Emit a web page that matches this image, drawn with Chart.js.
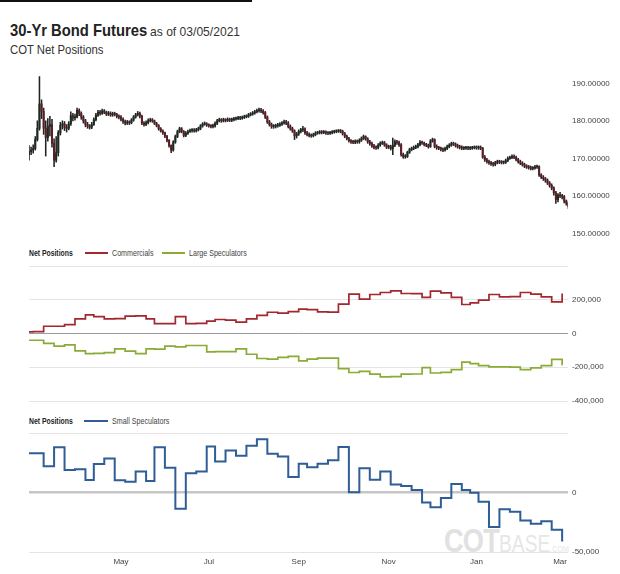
<!DOCTYPE html>
<html>
<head>
<meta charset="utf-8">
<title>30-Yr Bond Futures - COT Net Positions</title>
<script src="https://cdn.jsdelivr.net/npm/chart.js@4.4.1/dist/chart.umd.min.js"></script>
<style>
body{margin:0;background:#fff;width:620px;height:574px;overflow:hidden;position:relative;
font-family:"Liberation Sans",Arial,sans-serif;color:#333;}
.topbar{position:absolute;left:0;top:0;width:252px;height:2px;background:#111;}
.nar{position:absolute;white-space:nowrap;transform-origin:0 50%;}
.title{left:10px;top:21px;font-size:17px;font-weight:bold;color:#222;transform:scaleX(.87);}
.asof{left:150px;top:24px;font-size:13px;color:#333;transform:scaleX(.93);}
.sub{left:10px;top:42px;font-size:13px;color:#333;transform:scaleX(.87);}
.lg{font-size:9px;line-height:10px;color:#444;transform:scaleX(.79);}
.lg.b{font-weight:bold;color:#222;transform:scaleX(.76);}
.sw{position:absolute;height:2px;}
.box{position:absolute;left:0;width:620px;z-index:1;}
.wm{position:absolute;left:444px;top:521px;z-index:0;white-space:nowrap;transform:scaleX(.8);transform-origin:0 50%;}
.wm .a{font-size:34px;font-weight:bold;color:#e1e1e1;letter-spacing:-1px;}
.wm .b{font-size:24px;color:#e6e6e6;}
.wm .c{font-size:9px;color:#e6e6e6;}
</style>
</head>
<body>

<div class="topbar"></div>
<div class="nar title">30-Yr Bond Futures</div>
<div class="nar asof">as of 03/05/2021</div>
<div class="nar sub">COT Net Positions</div>

<div class="box" style="top:60px;height:191px"><canvas id="priceChart" width="620" height="191"></canvas></div>

<div class="nar lg b" style="left:29px;top:248px">Net Positions</div>
<div class="sw" style="left:85px;top:252px;width:23px;background:#a3272f"></div>
<div class="nar lg" style="left:112px;top:248px">Commercials</div>
<div class="sw" style="left:162px;top:252px;width:23px;background:#8aab35"></div>
<div class="nar lg" style="left:189px;top:248px">Large Speculators</div>
<div class="box" style="top:256px;height:155px"><canvas id="netChart" width="620" height="155"></canvas></div>

<div class="nar lg b" style="left:29px;top:416px">Net Positions</div>
<div class="sw" style="left:84px;top:420px;width:24px;background:#2f5d96"></div>
<div class="nar lg" style="left:112px;top:416px">Small Speculators</div>
<div class="wm"><span class="a">COT</span><span class="b">BASE</span><span class="c">.COM</span></div>
<div class="box" style="top:423px;height:147px"><canvas id="smallChart" width="620" height="147"></canvas></div>

<script>

/* DATES */

const holidays=["2020-04-10","2020-05-25","2020-07-03","2020-09-07","2020-11-26","2020-12-25","2021-01-01"];

const priceStart="2020-02-28";

const monthStarts=["2020-05","2020-07","2020-09","2020-11","2021-01","2021-03"];
const monthLabels=["May","Jul","Sep","Nov","Jan","Mar"];


/* DAILY PRICES (from 02/28/2020) */

const closes=[
171.8,172.2,172.6,175.0,178.0,184.5,182.5,178.0,175.5,178.5,
179.0,174.0,169.5,171.5,176.8,178.8,179.2,178.2,178.0,179.2,
181.4,180.8,181.0,182.8,182.0,181.0,180.0,179.0,178.6,178.3,
179.0,180.3,181.5,182.3,182.0,182.6,182.3,181.8,182.0,181.6,
181.9,181.7,181.2,181.0,180.4,179.8,179.4,179.6,179.5,180.2,
181.0,181.6,182.0,181.2,179.4,179.0,179.5,180.0,180.2,180.0,
179.3,178.8,177.9,177.3,176.8,175.9,174.8,173.4,172.2,174.3,
175.8,177.1,177.9,177.2,176.1,176.7,177.1,177.4,177.5,177.3,
177.6,177.9,178.6,179.1,179.2,178.9,178.7,178.5,178.6,179.3,
180.0,180.3,180.0,180.3,180.1,180.4,180.2,180.3,180.5,180.6,
180.8,180.7,180.9,181.1,181.2,181.6,181.8,182.1,182.4,182.7,
182.9,182.6,182.2,181.0,179.7,179.0,178.5,178.5,178.7,178.8,
179.1,179.4,179.7,179.4,178.5,177.9,177.3,176.0,176.5,177.2,
177.6,177.8,176.8,176.4,176.1,176.0,176.3,176.7,176.8,177.0,
176.9,177.0,176.8,176.7,176.8,177.0,177.1,177.2,177.3,177.2,
176.6,175.9,175.3,174.7,174.4,174.3,174.5,174.4,174.8,175.3,
175.8,175.2,174.4,173.9,173.3,172.9,172.8,173.5,174.0,174.2,
173.6,173.0,173.1,172.6,173.5,174.4,174.2,173.6,171.0,170.4,
170.5,171.6,172.3,172.6,172.9,173.1,173.6,174.3,174.1,173.7,
173.5,173.1,174.6,175.0,173.2,172.8,172.7,172.4,172.2,172.6,
173.1,173.5,173.9,173.8,173.4,173.1,172.9,172.7,172.7,172.8,
172.7,172.7,172.8,172.9,172.8,172.9,172.7,170.3,169.6,169.1,
168.8,168.5,168.4,168.8,169.1,169.0,168.9,168.9,169.4,170.0,
170.2,170.5,170.3,169.7,169.1,168.7,168.3,167.9,167.7,167.5,
167.3,167.4,167.7,167.8,165.6,165.0,164.6,164.1,163.4,162.8,
162.1,160.8,159.0,160.2,160.0,159.8,158.6,158.0,157.1
];

const highs=[
173.4,173.0,173.6,175.8,180.0,191.8,185.6,183.4,180.0,180.6,
181.2,180.4,175.2,175.8,177.4,179.6,180.0,179.8,179.0,179.8,
182.4,182.0,181.8,183.4,183.2,182.4,181.4,180.4,179.6,179.0,
179.6,180.8,182.0,182.8,182.8,183.1,183.0,182.6,182.5,182.4,
182.3,182.3,182.0,181.6,181.4,180.8,180.2,180.1,180.0,180.6,
181.4,182.0,182.5,182.3,181.5,179.8,180.0,180.5,180.7,180.6,
180.2,179.6,179.0,178.2,177.6,177.0,176.1,175.0,173.6,174.7,
176.2,177.5,178.3,178.2,177.4,177.1,177.5,177.8,177.9,177.9,
178.0,178.3,179.0,179.5,179.7,179.5,179.2,179.0,179.1,179.7,
180.4,180.7,180.6,180.7,180.6,180.8,180.7,180.7,180.9,181.0,
181.2,181.2,181.3,181.5,181.6,182.0,182.2,182.5,182.8,183.1,
183.4,183.3,183.0,182.5,181.3,180.1,179.4,179.0,179.1,179.3,
179.5,179.8,180.2,180.1,179.8,178.9,178.3,177.6,176.9,177.6,
178.0,178.5,178.1,177.2,176.8,176.5,176.7,177.1,177.2,177.4,
177.4,177.4,177.3,177.1,177.2,177.4,177.5,177.6,177.7,177.7,
177.5,176.9,176.2,175.6,175.0,174.8,174.9,174.9,175.2,175.7,
176.2,176.0,175.5,174.8,174.3,173.7,173.3,173.9,174.4,174.6,
174.5,173.9,173.5,173.5,175.4,174.9,174.8,174.6,173.9,171.4,
171.0,171.9,172.7,173.0,173.3,173.5,174.0,174.7,174.6,174.3,
174.0,173.8,175.0,175.4,175.2,173.6,173.2,173.0,172.8,173.0,
173.5,173.9,174.3,174.3,174.1,173.8,173.5,173.3,173.1,173.2,
173.2,173.1,173.2,173.3,173.3,173.3,173.3,172.9,170.7,170.0,
169.5,169.2,168.9,169.2,169.5,169.5,169.4,169.3,169.8,170.4,
170.6,170.9,170.9,170.6,170.0,169.5,169.1,168.7,168.3,168.1,
167.9,167.8,168.1,168.2,168.0,165.9,165.4,164.9,164.5,163.8,
163.2,162.4,161.2,160.6,160.9,160.4,160.1,158.9,158.3
];

const lows=[
169.5,171.0,171.4,172.2,174.6,177.5,180.6,176.4,170.6,174.6,
176.0,173.0,167.8,169.0,170.6,176.2,177.8,177.4,177.0,177.6,
178.8,180.0,180.2,180.8,181.4,180.4,179.4,178.4,178.0,177.8,
177.9,178.8,180.0,181.2,181.5,181.7,181.9,181.4,181.4,181.2,
181.2,181.3,180.8,180.5,180.0,179.3,178.9,179.0,179.0,179.2,
179.9,180.7,181.3,180.8,179.0,178.6,178.7,179.2,179.7,179.6,
179.0,178.4,177.5,177.0,176.4,175.5,174.4,173.0,171.5,171.9,
174.0,175.5,176.8,176.8,175.7,175.8,176.4,176.9,177.0,177.0,
177.0,177.3,177.6,178.3,178.8,178.5,178.3,178.1,178.1,178.3,
179.0,179.7,179.6,179.7,179.7,179.8,179.8,179.8,180.0,180.2,
180.3,180.3,180.4,180.6,180.8,180.9,181.3,181.5,181.8,182.1,
182.3,182.2,181.8,180.6,179.3,178.6,178.0,178.0,178.1,178.3,
178.5,178.8,179.1,179.0,178.1,177.5,176.9,175.0,175.4,176.1,
176.8,177.1,176.4,176.0,175.7,175.6,175.7,176.0,176.4,176.5,
176.5,176.6,176.4,176.3,176.4,176.5,176.7,176.8,176.9,176.8,
176.2,175.5,174.9,174.3,174.0,173.9,173.9,174.0,174.0,174.5,
175.0,174.8,174.0,173.5,172.9,172.5,172.4,172.5,173.2,173.7,
173.2,172.6,172.6,172.2,171.0,173.1,173.7,173.2,170.6,170.0,
170.0,170.2,171.3,172.0,172.3,172.6,172.8,173.3,173.7,173.3,
173.1,172.7,172.9,174.3,172.8,172.4,172.3,172.0,171.8,171.9,
172.3,172.8,173.2,173.4,173.0,172.7,172.5,172.3,172.3,172.4,
172.3,172.3,172.4,172.5,172.4,172.4,172.3,170.0,169.2,168.7,
168.4,168.1,167.9,168.0,168.5,168.6,168.5,168.5,168.6,169.1,
169.7,169.9,169.9,169.3,168.7,168.3,167.9,167.5,167.3,167.1,
166.9,166.9,167.1,167.3,165.2,164.6,164.1,163.6,163.0,162.3,
161.6,160.2,158.0,158.4,159.5,159.2,158.1,157.5,156.6
];

const firstOpen=171.0;

const priceTicks=[150,160,170,180,190];


/* WEEKLY COT NET POSITIONS (report dates) */

const cotDates=[
"2020-02-25","2020-03-03","2020-03-10","2020-03-17","2020-03-24","2020-03-31","2020-04-07","2020-04-14","2020-04-21","2020-04-28",
"2020-05-05","2020-05-12","2020-05-19","2020-05-26","2020-06-02","2020-06-09","2020-06-16","2020-06-23","2020-06-30","2020-07-07",
"2020-07-14","2020-07-21","2020-07-28","2020-08-04","2020-08-11","2020-08-18","2020-08-25","2020-09-01","2020-09-08","2020-09-15",
"2020-09-22","2020-09-29","2020-10-06","2020-10-13","2020-10-20","2020-10-27","2020-11-03","2020-11-10","2020-11-17","2020-11-24",
"2020-12-01","2020-12-08","2020-12-15","2020-12-22","2020-12-29","2021-01-05","2021-01-12","2021-01-19","2021-01-26","2021-02-02",
"2021-02-09","2021-02-16","2021-02-23","2021-03-02"
];

const commercials=[
10000,11000,43000,43000,53000,87000,110000,100000,87000,88000,
103000,104000,87000,59000,58000,100000,59000,60000,73000,83000,
79000,67000,87000,107000,126000,121000,130000,144000,142000,128000,
127000,174000,233000,204000,231000,243000,253000,237000,236000,214000,
251000,241000,214000,172000,182000,198000,231000,217000,218000,243000,
233000,217000,188000,237000
];

const largeSpecs=[
-40000,-40000,-59000,-75000,-67000,-103000,-119000,-118000,-113000,-91000,
-105000,-119000,-91000,-92000,-75000,-79000,-71000,-71000,-109000,-107000,
-107000,-91000,-123000,-148000,-152000,-142000,-136000,-162000,-152000,-146000,
-146000,-208000,-231000,-224000,-241000,-257000,-256000,-241000,-240000,-202000,
-234000,-230000,-214000,-170000,-178000,-190000,-198000,-198000,-199000,-214000,
-204000,-190000,-153000,-188000
];

const smallSpecs=[
33000,33000,22000,38000,19000,19500,10500,24000,28600,10200,
9000,17600,9700,38000,20700,-13600,16200,17600,38600,26100,
35200,30900,39200,44800,32600,30300,13000,24100,21300,24100,
27000,38300,300,20400,10800,17600,6800,5400,2000,-8500,
-12300,-4600,7100,2000,-300,-7700,-29000,-14000,-16200,-23600,
-26200,-24200,-31300,-41200
];

const netTicks=[-400000,-200000,0,200000,400000];
const smallTicks=[-50000,0,50000];


/* TRADING DAY AXIS */

function tradingDays(from,to){
const out=[];
const d=new Date(from+"T00:00:00Z");
const end=new Date(to+"T00:00:00Z");
while(d<=end){
const wd=d.getUTCDay();
const s=d.toISOString().slice(0,10);
if(wd!==0&&wd!==6&&holidays.indexOf(s)<0) out.push(s);
d.setUTCDate(d.getUTCDate()+1);
}
return out;
}

const days=tradingDays("2020-02-25","2021-03-05");
const x0=days.indexOf(priceStart);
const xMin=x0;
const xMax=x0+257.8;

const monthIdx=monthStarts.map(m=>days.findIndex(d=>d.indexOf(m)===0));

Chart.defaults.font.family='"Liberation Sans",Arial,sans-serif';
Chart.defaults.font.size=8;
Chart.defaults.color="#444";

const fmt=v=>v.toLocaleString("en-US");

function xAxis(show){
const axis={
type:"linear",
min:xMin,
max:xMax,
offset:false,
display:show,
grid:{display:false,drawTicks:false},
border:{display:false},
afterBuildTicks:s=>{s.ticks=monthIdx.map(v=>({value:v}));},
ticks:{
autoSkip:false,
maxRotation:0,
padding:5,
color:"#444",
callback:v=>{const i=monthIdx.indexOf(v);return i<0?"":monthLabels[i];}
}
};
if(show) axis.afterFit=s=>{s.height=18;};
return axis;
}

const noPlugins={legend:{display:false},tooltip:{enabled:false}};


/* PRICE CHART (candles from floating bars) */

const candles=closes.map((c,i)=>({
x:x0+i,
o:i?closes[i-1]:firstOpen,
c:c,
h:highs[i],
l:lows[i]
}));

new Chart(document.getElementById("priceChart"),{
type:"bar",
data:{
datasets:[
{
label:"Body",
data:candles.map(k=>({x:k.x,y:[k.o,k.c]})),
backgroundColor:ctx=>{const r=ctx.raw;return r&&r.y[1]>=r.y[0]?"#1b2b20":"#5e1c25";},
barThickness:1.4,
minBarLength:1,
grouped:false,
borderWidth:0
},
{
label:"Range",
data:candles.map(k=>({x:k.x,y:[k.l,k.h]})),
backgroundColor:"#222222",
barThickness:0.9,
grouped:false,
borderWidth:0
}
]
},
options:{
responsive:false,
animation:false,
events:[],
layout:{padding:{left:29,right:0,top:10,bottom:10}},
plugins:noPlugins,
scales:{
x:xAxis(false),
y:{
position:"right",
min:147.95,
max:193.55,
grid:{display:false,drawTicks:false},
border:{display:false},
afterBuildTicks:s=>{s.ticks=priceTicks.map(v=>({value:v}));},
afterFit:s=>{s.width=52;},
ticks:{padding:4,color:"#444",callback:v=>v.toFixed(5)}
}
}
}
});


/* COMMERCIALS / LARGE SPECULATORS */

const cotX=cotDates.map(d=>days.indexOf(d));

function series(values){
return values.map((v,i)=>({x:cotX[i],y:v}));
}

new Chart(document.getElementById("netChart"),{
type:"line",
data:{
datasets:[
{label:"Commercials",data:series(commercials),borderColor:"#a3272f",borderWidth:1.7,stepped:true,pointRadius:0,fill:false},
{label:"Large Speculators",data:series(largeSpecs),borderColor:"#8aab35",borderWidth:1.7,stepped:true,pointRadius:0,fill:false}
]
},
options:{
responsive:false,
animation:false,
events:[],
layout:{padding:{left:29,right:0,top:10,bottom:10}},
plugins:noPlugins,
scales:{
x:xAxis(false),
y:{
position:"right",
min:-400000,
max:400000,
border:{display:false},
grid:{
drawTicks:false,
color:c=>c.tick&&c.tick.value===0?"#9b9b9b":"#e4e4e4",
lineWidth:1
},
afterBuildTicks:s=>{s.ticks=netTicks.map(v=>({value:v}));},
afterFit:s=>{s.width=52;},
ticks:{padding:4,color:"#444",callback:v=>v===400000?"":fmt(v)}
}
}
}
});


/* SMALL SPECULATORS */

new Chart(document.getElementById("smallChart"),{
type:"line",
data:{
datasets:[
{label:"Small Speculators",data:series(smallSpecs),borderColor:"#2f5d96",borderWidth:2,stepped:true,pointRadius:0,fill:false}
]
},
options:{
responsive:false,
animation:false,
events:[],
layout:{padding:{left:29,right:0,top:10,bottom:0}},
plugins:noPlugins,
scales:{
x:xAxis(true),
y:{
position:"right",
min:-50000,
max:50000,
border:{display:false},
grid:{
drawTicks:false,
color:c=>c.tick&&c.tick.value===0?"#c6c6c6":"#e4e4e4",
lineWidth:c=>c.tick&&c.tick.value===0?2.5:1
},
afterBuildTicks:s=>{s.ticks=smallTicks.map(v=>({value:v}));},
afterFit:s=>{s.width=52;},
ticks:{padding:4,color:"#444",callback:v=>v===50000?"":fmt(v)}
}
}
}
});

</script>
</body>
</html>
